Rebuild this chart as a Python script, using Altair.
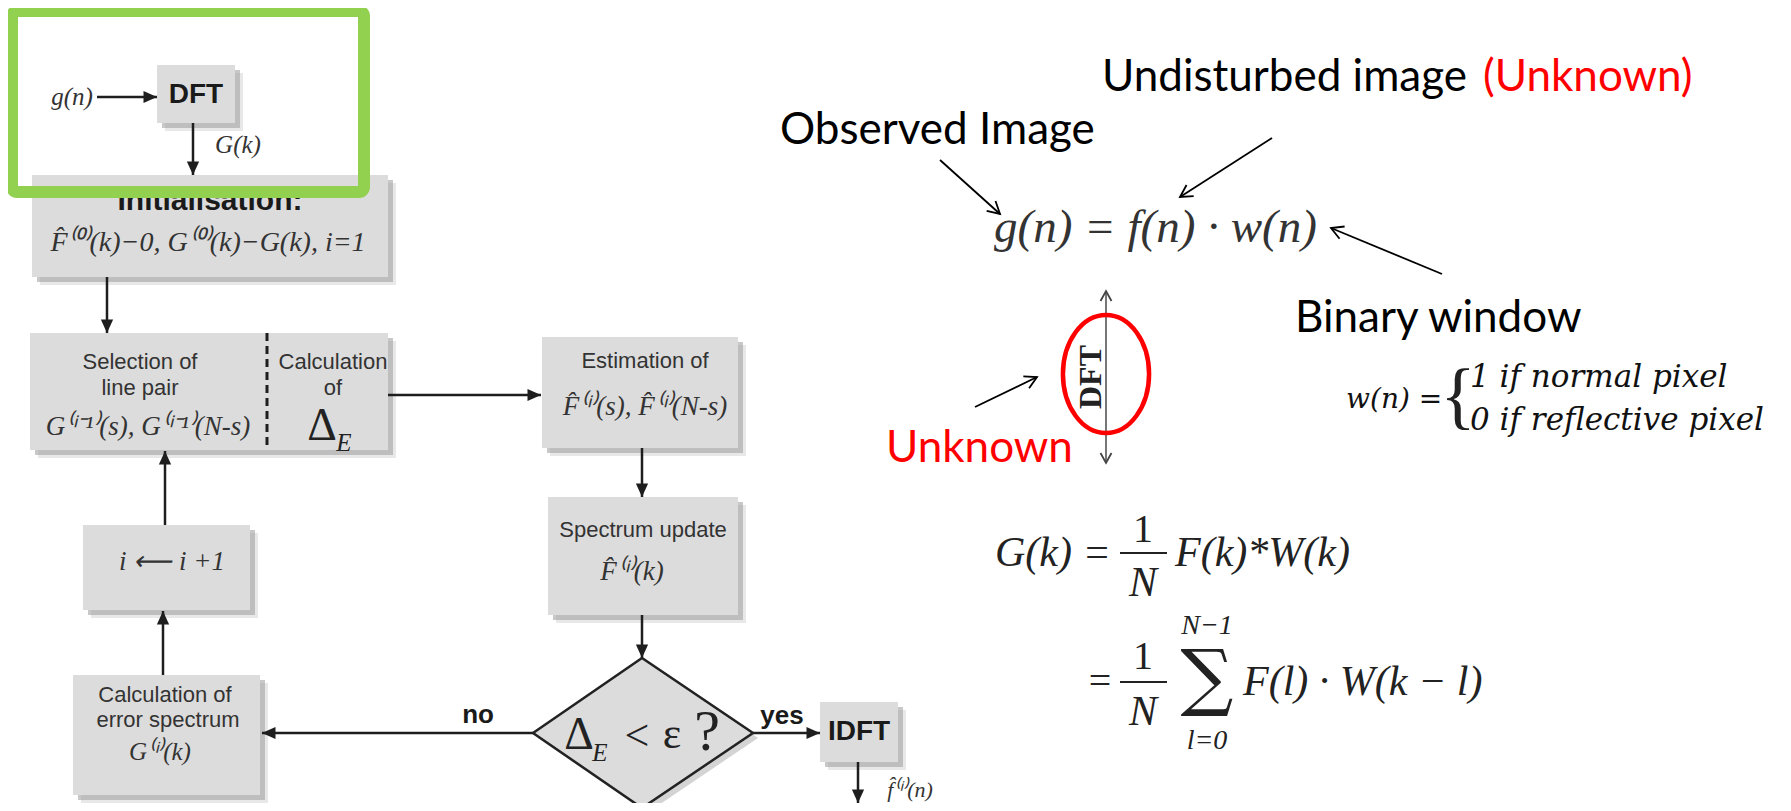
import math
import altair as alt
import pandas as pd

# ---------------- canvas mapping (data units == page pixels) ----------------
W, H = 1775, 795
OX, OY = 8, 8
XS = alt.Scale(domain=[OX, OX + W], nice=False, zero=False)
YS = alt.Scale(domain=[OY, OY + H], nice=False, zero=False, reverse=True)

SANS = "Liberation Sans"
SERIF = "Liberation Serif"
CAL = "Lato"
BOXFILL = "#dcdcdc"

# ---------------- data ----------------
# flowchart boxes: DFT, Init, Selection, Estimation, Spectrum, i-update, Calc error, IDFT
box_x1 = [157, 32, 30, 542, 548, 83, 73, 820]
box_x2 = [235, 388, 388, 738, 738, 250, 260, 898]
box_y1 = [65, 175, 333, 337, 497, 525, 675, 702]
box_y2 = [123, 277, 450, 448, 615, 610, 795, 762]

# decision diamond
dia_x = [533, 642, 753]
dia_top = [733, 658, 733]
dia_bot = [733, 808, 733]

# flowchart arrows (head at end)
arr_x1 = [97, 193, 107, 388, 642, 642, 753, 858, 533, 163, 165]
arr_y1 = [97, 123, 277, 395, 448, 615, 733, 762, 733, 675, 525]
arr_x2 = [157, 193, 107, 541, 642, 642, 820, 858, 262, 163, 165]
arr_y2 = [97, 175, 333, 395, 497, 658, 733, 803, 733, 611, 451]

# dashed divider inside selection box
dash_x = [267]
dash_y1 = [333]
dash_y2 = [450]

# annotation arrows (open heads at end)
ann_x1 = [940, 1272, 1442, 975]
ann_y1 = [160, 138, 274, 407]
ann_x2 = [1000, 1180, 1331, 1037]
ann_y2 = [214, 197, 228, 377]

# DFT double arrow
dft_x = [1106]
dft_y1 = [291]
dft_y2 = [463]

# red ellipse
ell_x = [1106]
ell_y = [374]

# fraction bars
frac_x1 = [1120, 1120]
frac_x2 = [1167, 1167]
frac_y = [553, 682]

# green frame
frame_x1, frame_x2, frame_y1, frame_y2 = [12], [364], [11], [192]

# ---------------- helpers ----------------
def X(f="x"):
    return alt.X(f"{f}:Q", scale=XS, axis=None)


def Y(f="y"):
    return alt.Y(f"{f}:Q", scale=YS, axis=None)


def angle_of(x1, y1, x2, y2):
    return math.degrees(math.atan2(x2 - x1, -(y2 - y1))) % 360


def text_layer(items, font, size, color="#222222", style="normal", weight="normal",
               align="center", angle=0):
    df = pd.DataFrame(items, columns=["t", "x", "y"])
    return alt.Chart(df).mark_text(
        font=font, fontSize=size, color=color, fontStyle=style, fontWeight=weight,
        align=align, baseline="middle", angle=angle
    ).encode(x=X(), y=Y(), text="t:N")


def rects(x1, x2, y1, y2, dx=0, dy=0, **kw):
    df = pd.DataFrame(dict(x=[a + dx for a in x1], x2=[a + dx for a in x2],
                           y=[a + dy for a in y1], y2=[a + dy for a in y2]))
    return alt.Chart(df).mark_rect(**kw).encode(
        x=X(), x2=alt.X2("x2:Q"), y=Y(), y2=alt.Y2("y2:Q"))


def rules(x1, y1, x2, y2, **kw):
    df = pd.DataFrame(dict(x=x1, y=y1, x2=x2, y2=y2))
    return alt.Chart(df).mark_rule(**kw).encode(
        x=X(), y=Y(), x2=alt.X2("x2:Q"), y2=alt.Y2("y2:Q"))


def heads(px, py, ang, shape, size, color, filled, sw=1.0):
    df = pd.DataFrame(dict(x=px, y=py, a=ang))
    return alt.Chart(df).mark_point(
        shape=shape, size=size, filled=filled, color=color, strokeWidth=sw, opacity=1
    ).encode(x=X(), y=Y(), angle=alt.Angle("a:Q", scale=None))


TRI = "M0,0L-0.5,1.1L0.5,1.1Z"
CHEV = "M-0.55,1L0,0L0.55,1"
k = 0.5523
rx = 0.73
ELL = (f"M0,-1C{rx*k:.4f},-1 {rx},-{k} {rx},0C{rx},{k} {rx*k:.4f},1 0,1"
       f"C-{rx*k:.4f},1 -{rx},{k} -{rx},0C-{rx},-{k} -{rx*k:.4f},-1 0,-1Z")

layers = []

# shadows + boxes
layers.append(rects(box_x1, box_x2, box_y1, box_y2, 8, 8, color="#bdbdbd", opacity=0.35))
layers.append(rects(box_x1, box_x2, box_y1, box_y2, 5, 5, color="#9a9a9a", opacity=0.55))
layers.append(rects(box_x1, box_x2, box_y1, box_y2, color=BOXFILL, opacity=1))

# diamond
dia_df = pd.DataFrame(dict(x=dia_x, top=dia_top, bot=dia_bot))
dia_sh = pd.DataFrame(dict(x=[a + 5 for a in dia_x], top=[a + 5 for a in dia_top],
                           bot=[a + 5 for a in dia_bot]))
layers.append(alt.Chart(dia_sh).mark_area(color="#a0a0a0", opacity=0.45).encode(
    x=X(), y=Y("top"), y2=alt.Y2("bot:Q")))
layers.append(alt.Chart(dia_df).mark_area(fill=BOXFILL, stroke="#222222", strokeWidth=2.5,
                                          opacity=1).encode(
    x=X(), y=Y("top"), y2=alt.Y2("bot:Q")))

# flowchart arrows
layers.append(rules(arr_x1, arr_y1, arr_x2, arr_y2, color="#1e1e1e", strokeWidth=2.5))
arr_ang = [angle_of(a, b, c, d) for a, b, c, d in zip(arr_x1, arr_y1, arr_x2, arr_y2)]
layers.append(heads(arr_x2, arr_y2, arr_ang, TRI, 600, "#1e1e1e", True))

# dashed divider
layers.append(rules(dash_x, dash_y1, dash_x, dash_y2, color="#1e1e1e", strokeWidth=3,
                    strokeDash=[8, 5]))

# ---------------- flowchart texts ----------------
layers.append(text_layer([("Selection of", 140, 362), ("line pair", 140, 388),
                          ("Calculation", 333, 362), ("of", 333, 388),
                          ("Estimation of", 645, 361), ("Spectrum update", 643, 530),
                          ("Calculation of", 165, 695), ("error spectrum", 168, 720)],
                         SANS, 22, color="#333333"))
layers.append(text_layer([("DFT", 196, 95), ("IDFT", 859, 732)],
                         SANS, 28, color="#1a1a1a", weight="bold"))
layers.append(text_layer([("Initialisation:", 210, 201)],
                         SANS, 30, color="#1a1a1a", weight="bold"))
layers.append(text_layer([("no", 478, 715), ("yes", 782, 716)],
                         SANS, 26, color="#1a1a1a", weight="bold"))
layers.append(text_layer([("F̂⁽⁰⁾(k)−0, G⁽⁰⁾(k)−G(k), i=1", 208, 243)],
                         SERIF, 28, color="#333333", style="italic"))
layers.append(text_layer([("G⁽ⁱ⁻¹⁾(s), G⁽ⁱ⁻¹⁾(N-s)", 148, 427),
                          ("F̂⁽ⁱ⁾(s), F̂⁽ⁱ⁾(N-s)", 645, 407),
                          ("F̂⁽ⁱ⁾(k)", 632, 572),
                          ("i ⟵ i +1", 172, 562)],
                         SERIF, 27, color="#333333", style="italic"))
layers.append(text_layer([("G⁽ⁱ⁾(k)", 160, 752), ("g(n)", 72, 97), ("G(k)", 238, 145)],
                         SERIF, 25, color="#333333", style="italic"))
layers.append(text_layer([("f̂⁽ⁱ⁾(n)", 910, 790)], SERIF, 22, color="#333333", style="italic"))
layers.append(text_layer([("Δ", 322, 426), ("Δ", 579, 735)], SERIF, 46, color="#222222"))
layers.append(text_layer([("E", 344, 443), ("E", 600, 753)], SERIF, 25, color="#222222",
                         style="italic"))
layers.append(text_layer([("<", 637, 737), ("ε", 672, 735)], SERIF, 44, color="#222222"))
layers.append(text_layer([("?", 707, 733)], SERIF, 58, color="#222222"))

# green frame on top
layers.append(rects(frame_x1, frame_x2, frame_y1, frame_y2, fillOpacity=0, stroke="#92d050",
                    strokeWidth=12, cornerRadius=5))

# ---------------- right side ----------------
layers.append(rules(ann_x1, ann_y1, ann_x2, ann_y2, color="#000000", strokeWidth=1.8))
ann_ang = [angle_of(a, b, c, d) for a, b, c, d in zip(ann_x1, ann_y1, ann_x2, ann_y2)]
layers.append(heads(ann_x2, ann_y2, ann_ang, CHEV, 576, "#000000", False, 1.8))

layers.append(rules(dft_x, dft_y1, dft_x, dft_y2, color="#555555", strokeWidth=1.6))
layers.append(heads(dft_x + dft_x, dft_y1 + dft_y2, [0, 180], CHEV, 400, "#444444", False, 1.8))
layers.append(text_layer([("DFT", 1091, 377)], SERIF, 32, color="#222222", weight="bold",
                         angle=270))
layers.append(heads(ell_x, ell_y, [0], ELL, 13924, "#ff0000", False, 4.5))

layers.append(text_layer([("Observed Image", 780, 131), ("Undisturbed image", 1102, 78),
                          ("Binary window", 1295, 319)],
                         CAL, 44, color="#000000", align="left"))
layers.append(text_layer([("(Unknown)", 1483, 78), ("Unknown", 886, 449)],
                         CAL, 44, color="#ff0000", align="left"))

layers.append(text_layer([("g(n) = f(n) · w(n)", 994, 228)], SERIF, 47, color="#333333",
                         style="italic", align="left"))

# piecewise w(n)
layers.append(text_layer([("w(n) =", 1346, 400)], "DejaVu Serif", 28, color="#111111",
                         style="italic", align="left"))
layers.append(text_layer([("{", 1458, 398)], SERIF, 74, color="#222222"))
layers.append(text_layer([("1 if normal pixel", 1470, 378), ("0 if reflective pixel", 1470, 421)],
                         "DejaVu Serif", 31, color="#111111", style="italic", align="left"))

# G(k) formula
layers.append(text_layer([("G(k) =", 995, 553), ("F(k)*W(k)", 1175, 553),
                          ("F(l) · W(k − l)", 1243, 682)],
                         SERIF, 42, color="#222222", style="italic", align="left"))
layers.append(text_layer([("=", 1100, 682), ("1", 1143, 530), ("1", 1143, 657)],
                         SERIF, 40, color="#222222"))
layers.append(text_layer([("N", 1143, 583), ("N", 1143, 712)],
                         SERIF, 42, color="#222222", style="italic"))
layers.append(rules(frac_x1, frac_y, frac_x2, frac_y, color="#222222", strokeWidth=2))
layers.append(text_layer([("∑", 1207, 680)], "DejaVu Serif", 74, color="#222222"))
layers.append(text_layer([("N−1", 1207, 626), ("l=0", 1207, 741)],
                         SERIF, 28, color="#222222", style="italic"))

chart = alt.layer(*layers).properties(
    width=W, height=H, padding=0, background="white",
    autosize=alt.AutoSizeParams(type="none")
).configure_view(stroke=None)

chart.save("out.html", embed_options={"renderer": "svg", "actions": False})
